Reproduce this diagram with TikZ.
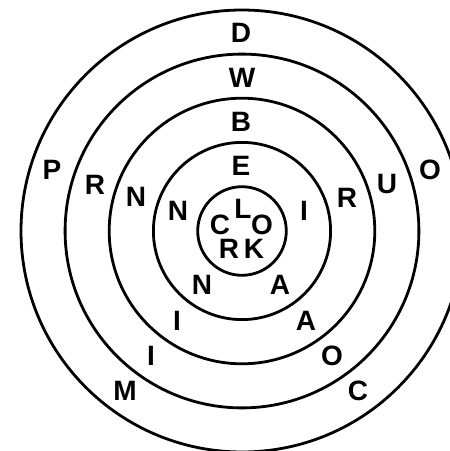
\documentclass[tikz,border=0pt]{standalone}
\usepackage{fontspec}
\setmainfont{Liberation Sans}

\begin{document}
\begin{tikzpicture}[x=1pt,y=1pt,
  letter/.style={font=\fontsize{28}{28}\selectfont\bfseries, inner sep=0pt}]
  % page frame
  \clip (-242,-220) rectangle (208,231);
  % rings
  \foreach \r in {44.3,88.6,132.8,176.9,221}
    \draw[line width=2.8pt] (0,0) circle (\r);
  % middle word
  \foreach \x/\y/\t [count=\i] in {
    -22/6/C, 1/22.5/L, 20/6/O, -13/-18/R, 12/-18/K}
    \node[letter] (core\i) at (\x,\y) {\t};
  % letters round the rings
  \foreach \x/\y/\t [count=\i] in {
    -1/65/E, -64/20/N, 62/20.5/I, -40/-54/N, 38/-54/A,
    -1/109/B, -106/34/N, 105/33/R, -65/-90/I, 64/-90/A,
    0/153/W, -147/46.5/R, 145/47/U, -91/-125/I, 90/-125/O,
    -1/198/D, -190/61/P, 188/61/O, -117/-160/M, 116/-160/C}
    \node[letter] (ring\i) at (\x,\y) {\t};
\end{tikzpicture}
\end{document}
